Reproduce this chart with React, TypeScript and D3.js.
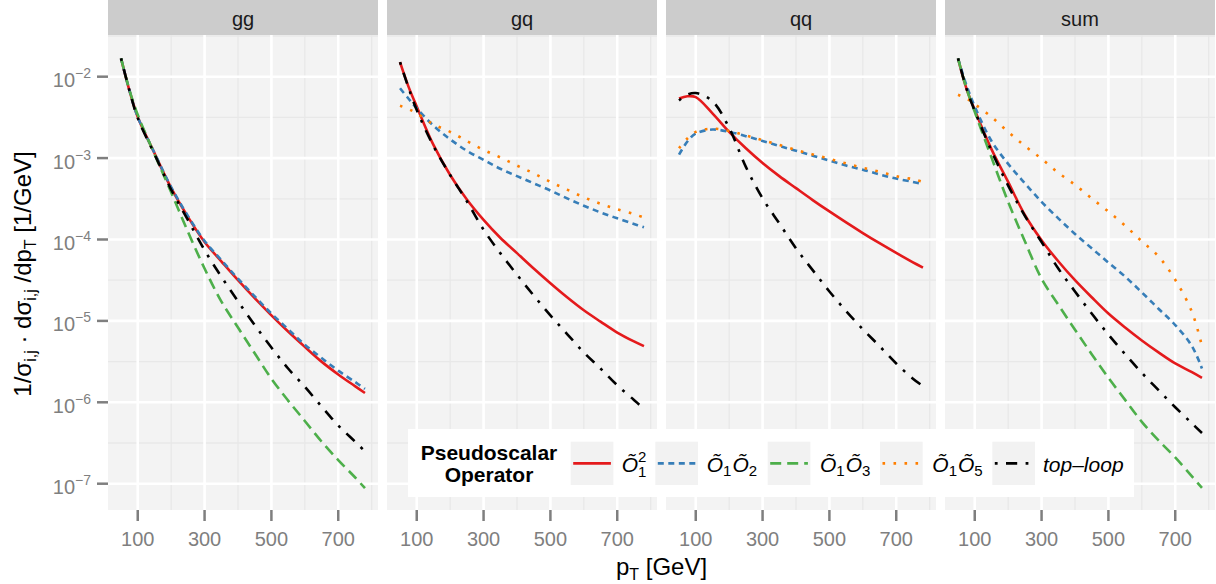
import React from 'react';
import * as d3 from 'd3';

// transverse momentum grid (GeV) the curves were read at
const PT = [50, 75, 100, 150, 200, 250, 300, 350, 400, 450, 500, 550, 600, 650, 700, 750, 780];

// gg channel
const GG_O1SQ = [1.68e-2, 6.8e-3, 3.2e-3, 1.15e-3, 4.3e-4, 1.9e-4, 9.3e-5, 5.4e-5, 3.16e-5, 1.9e-5, 1.17e-5, 7.4e-6, 4.8e-6, 3.16e-6, 2.2e-6, 1.58e-6, 1.3e-6];
const GG_O1O2 = [1.68e-2, 6.8e-3, 3.2e-3, 1.16e-3, 4.4e-4, 1.95e-4, 9.6e-5, 5.6e-5, 3.3e-5, 2.0e-5, 1.23e-5, 7.9e-6, 5.1e-6, 3.5e-6, 2.45e-6, 1.78e-6, 1.46e-6];
const GG_O1O3 = [1.68e-2, 6.9e-3, 3.4e-3, 1.12e-3, 3.8e-4, 1.25e-4, 4.4e-5, 1.74e-5, 8.3e-6, 4.0e-6, 1.95e-6, 1.05e-6, 5.9e-7, 3.3e-7, 1.95e-7, 1.2e-7, 8.8e-8];
const GG_TOP = [1.68e-2, 6.8e-3, 3.1e-3, 1.12e-3, 4.1e-4, 1.74e-4, 7.4e-5, 3.5e-5, 1.74e-5, 8.9e-6, 4.7e-6, 2.6e-6, 1.55e-6, 8.9e-7, 5.2e-7, 3.3e-7, 2.5e-7];

// gq channel
const GQ_O1SQ = [1.51e-2, 7.6e-3, 4.3e-3, 1.45e-3, 6.2e-4, 3.1e-4, 1.74e-4, 1.05e-4, 6.8e-5, 4.4e-5, 2.9e-5, 1.95e-5, 1.35e-5, 9.8e-6, 7.2e-6, 5.6e-6, 4.9e-6];
const GQ_O1O2 = [7.2e-3, 5.4e-3, 4.1e-3, 2.5e-3, 1.7e-3, 1.23e-3, 9.5e-4, 7.4e-4, 6.0e-4, 4.9e-4, 4.0e-4, 3.2e-4, 2.6e-4, 2.15e-4, 1.82e-4, 1.55e-4, 1.41e-4];
const GQ_O1O5 = [4.4e-3, 4.0e-3, 3.55e-3, 2.6e-3, 2.1e-3, 1.62e-3, 1.26e-3, 1.02e-3, 8.1e-4, 6.5e-4, 5.1e-4, 4.1e-4, 3.3e-4, 2.75e-4, 2.35e-4, 2.05e-4, 1.86e-4];
const GQ_TOP = [1.51e-2, 7.4e-3, 3.9e-3, 1.41e-3, 6.2e-4, 2.95e-4, 1.32e-4, 6.8e-5, 3.7e-5, 2.05e-5, 1.17e-5, 6.9e-6, 4.1e-6, 2.6e-6, 1.62e-6, 1.07e-6, 8.3e-7];

// qq channel
const QQ_O1SQ = [5.4e-3, 5.75e-3, 5.6e-3, 3.55e-3, 2.1e-3, 1.32e-3, 8.7e-4, 6.0e-4, 4.27e-4, 3.05e-4, 2.21e-4, 1.62e-4, 1.2e-4, 9.0e-5, 6.84e-5, 5.25e-5, 4.5e-5];
const QQ_O1O2 = [1.1e-3, 1.6e-3, 2.0e-3, 2.24e-3, 2.1e-3, 1.86e-3, 1.62e-3, 1.41e-3, 1.23e-3, 1.07e-3, 9.3e-4, 8.1e-4, 7.2e-4, 6.3e-4, 5.6e-4, 5.1e-4, 4.8e-4];
const QQ_O1O5 = [1.32e-3, 1.74e-3, 2.1e-3, 2.3e-3, 2.15e-3, 1.9e-3, 1.66e-3, 1.45e-3, 1.26e-3, 1.11e-3, 9.8e-4, 8.6e-4, 7.6e-4, 6.8e-4, 6.0e-4, 5.5e-4, 5.1e-4];
const QQ_TOP = [5.1e-3, 6.0e-3, 6.3e-3, 5.0e-3, 2.35e-3, 7.8e-4, 3.2e-4, 1.58e-4, 7.8e-5, 4.2e-5, 2.3e-5, 1.32e-5, 7.9e-6, 4.9e-6, 3.0e-6, 1.95e-6, 1.58e-6];

// sum of channels
const SUM_O1SQ = [1.68e-2, 7.2e-3, 3.9e-3, 1.29e-3, 5.1e-4, 2.0e-4, 9.8e-5, 5.4e-5, 3.16e-5, 1.95e-5, 1.23e-5, 8.3e-6, 5.75e-6, 4.1e-6, 3.0e-6, 2.35e-6, 2.0e-6];
const SUM_O1O2 = [1.68e-2, 7.9e-3, 4.3e-3, 1.62e-3, 8.5e-4, 4.9e-4, 2.9e-4, 1.82e-4, 1.17e-4, 7.8e-5, 5.2e-5, 3.5e-5, 2.24e-5, 1.41e-5, 8.9e-6, 4.9e-6, 2.6e-6];
const SUM_O1O3 = [1.68e-2, 7.2e-3, 3.7e-3, 1.02e-3, 2.9e-4, 9.5e-5, 3.3e-5, 1.58e-5, 7.8e-6, 3.9e-6, 2.0e-6, 1.07e-6, 5.75e-7, 3.4e-7, 2.1e-7, 1.23e-7, 8.9e-8];
const SUM_O1O5 = [6.0e-3, 5.4e-3, 4.6e-3, 3.2e-3, 2.1e-3, 1.41e-3, 9.8e-4, 6.6e-4, 4.7e-4, 3.2e-4, 2.2e-4, 1.48e-4, 9.5e-5, 6.2e-5, 3.2e-5, 1.29e-5, 4.9e-6];
const SUM_TOP = [1.68e-2, 7.2e-3, 3.8e-3, 1.23e-3, 4.6e-4, 1.95e-4, 9.3e-5, 4.4e-5, 2.3e-5, 1.23e-5, 6.8e-6, 3.9e-6, 2.3e-6, 1.41e-6, 8.7e-7, 5.5e-7, 4.2e-7];

const FACETS = ['gg', 'gq', 'qq', 'sum'];
const X_TICKS = [100, 300, 500, 700];
const X_MINOR = [200, 400, 600, 800];
const Y_EXPONENTS = [-2, -3, -4, -5, -6, -7];

const FACET_DATA: Record<string, Record<string, number[]>> = {
  gg: { o1sq: GG_O1SQ, o1o2: GG_O1O2, o1o3: GG_O1O3, top: GG_TOP },
  gq: { o1sq: GQ_O1SQ, o1o2: GQ_O1O2, o1o5: GQ_O1O5, top: GQ_TOP },
  qq: { o1sq: QQ_O1SQ, o1o2: QQ_O1O2, o1o5: QQ_O1O5, top: QQ_TOP },
  sum: { o1sq: SUM_O1SQ, o1o2: SUM_O1O2, o1o3: SUM_O1O3, o1o5: SUM_O1O5, top: SUM_TOP },
};

const SERIES = [
  { key: 'o1sq', color: '#E41A1C', dash: undefined },
  { key: 'o1o2', color: '#377EB8', dash: '6 4.5' },
  { key: 'o1o3', color: '#4DAF4A', dash: '11 6' },
  { key: 'o1o5', color: '#FF7F00', dash: '2.6 8.4' },
  { key: 'top', color: '#000000', dash: '2.8 8.4 11.2 8.4' },
];

const FONT = "'Liberation Sans', Arial, Helvetica, sans-serif";
const W = 1216;
const H = 584;
const PANEL_X0 = 108;
const PANEL_W = 270;
const PANEL_STEP = 279;
const TOP = 35;
const BOTTOM = 510;
const AXIS_GREY = '#7F7F7F';

const x = d3.scaleLinear().domain([11, 819]).range([0, PANEL_W]);
const y = d3.scaleLog().domain([10 ** -7.323, 10 ** -1.488]).range([BOTTOM, TOP]);

// smooth curve through the read-off points
const line = d3
  .line<number>()
  .x((_, i) => x(PT[i]))
  .y((v) => y(v))
  .curve(d3.curveCatmullRom.alpha(0.5));

function Panel({ name, index }: { name: string; index: number }) {
  const x0 = PANEL_X0 + index * PANEL_STEP;
  const data = FACET_DATA[name];
  const [lo, hi] = y.domain();
  const minorY = d3.range(-7.5, -1, 1).map((e) => 10 ** e).filter((v) => v >= lo && v <= hi);

  return (
    <g>
      {/* strip */}
      <rect x={x0} y={0} width={PANEL_W} height={TOP} fill="#CCCCCC" />
      <text x={x0 + PANEL_W / 2} y={25.5} textAnchor="middle" fontSize={20} fill="#1A1A1A">
        {name}
      </text>

      <g transform={`translate(${x0},0)`}>
        <rect x={0} y={TOP} width={PANEL_W} height={BOTTOM - TOP} fill="#F3F3F3" />
        {minorY.map((v) => (
          <line key={'my' + v} x1={0} x2={PANEL_W} y1={y(v)} y2={y(v)} stroke="#E8E8E8" strokeWidth={1.3} />
        ))}
        {X_MINOR.map((v) => (
          <line key={'mx' + v} x1={x(v)} x2={x(v)} y1={TOP} y2={BOTTOM} stroke="#E8E8E8" strokeWidth={1.3} />
        ))}
        {Y_EXPONENTS.map((e) => (
          <line key={'gy' + e} x1={0} x2={PANEL_W} y1={y(10 ** e)} y2={y(10 ** e)} stroke="#FFFFFF" strokeWidth={2.6} />
        ))}
        {X_TICKS.map((v) => (
          <line key={'gx' + v} x1={x(v)} x2={x(v)} y1={TOP} y2={BOTTOM} stroke="#FFFFFF" strokeWidth={2.6} />
        ))}

        {SERIES.filter((s) => data[s.key]).map((s) => (
          <path
            key={s.key}
            d={line(data[s.key]) || ''}
            fill="none"
            stroke={s.color}
            strokeWidth={2.6}
            strokeDasharray={s.dash}
            strokeLinecap="butt"
          />
        ))}

        {/* x axis */}
        {X_TICKS.map((v) => (
          <g key={'xt' + v}>
            <line x1={x(v)} x2={x(v)} y1={BOTTOM} y2={BOTTOM + 11} stroke={AXIS_GREY} strokeWidth={2.5} />
            <text x={x(v)} y={545.5} textAnchor="middle" fontSize={20} fill={AXIS_GREY}>
              {v}
            </text>
          </g>
        ))}
      </g>
    </g>
  );
}

function Sub({ children, dy }: { children: React.ReactNode; dy: number }) {
  return (
    <tspan fontSize={15} fontStyle="normal" dy={dy}>
      {children}
    </tspan>
  );
}

function Legend() {
  const keyX = [570.7, 655.3, 767.7, 880, 992.3];
  const keyW = 42.7;
  const keyY = 441.7;
  const keyH = 43.3;
  const midY = keyY + keyH / 2;
  const labelX = [621.7, 706.7, 820, 932.3, 1043];
  const base = 471.5;

  return (
    <g>
      <rect x={408} y={429} width={726} height={68} fill="#FFFFFF" />
      <text x={489} y={459.5} textAnchor="middle" fontSize={21} fontWeight="bold" fill="#000">
        Pseudoscalar
      </text>
      <text x={489} y={481.5} textAnchor="middle" fontSize={21} fontWeight="bold" fill="#000">
        Operator
      </text>
      {SERIES.map((s, i) => (
        <g key={s.key}>
          <rect x={keyX[i]} y={keyY} width={keyW} height={keyH} fill="#F2F2F2" />
          <line
            x1={keyX[i] + 2.5}
            x2={keyX[i] + keyW - 2.5}
            y1={midY}
            y2={midY}
            stroke={s.color}
            strokeWidth={2.6}
            strokeDasharray={s.dash}
          />
        </g>
      ))}

      {/* Õ1^2 */}
      <text x={labelX[0]} y={base} fontSize={21} fontStyle="italic" fill="#000">
        Õ
      </text>
      <text x={labelX[0] + 16.3} y={base - 10} fontSize={15} fill="#000">
        2
      </text>
      <text x={labelX[0] + 16.3} y={base + 5.5} fontSize={15} fill="#000">
        1
      </text>

      {[
        ['1', '2'],
        ['1', '3'],
        ['1', '5'],
      ].map(([a, b], i) => (
        <text key={b} x={labelX[i + 1]} y={base} fontSize={21} fontStyle="italic" fill="#000">
          Õ
          <Sub dy={4}>{a}</Sub>
          <tspan dy={-4} dx={1}>
            Õ
          </tspan>
          <Sub dy={4}>{b}</Sub>
        </text>
      ))}

      <text x={labelX[4]} y={base} fontSize={21} fontStyle="italic" fill="#000">
        top–loop
      </text>
    </g>
  );
}

export default function App() {
  return (
    <svg
      width={W}
      height={H}
      style={{ position: 'absolute', left: 0, top: 0, background: '#FFFFFF' }}
      fontFamily={FONT}
    >
      <rect width={W} height={H} fill="#FFFFFF" />
      {FACETS.map((f, i) => (
        <Panel key={f} name={f} index={i} />
      ))}

      {/* y axis (left panel only) */}
      {Y_EXPONENTS.map((e) => (
        <g key={'yt' + e}>
          <line x1={97} x2={PANEL_X0} y1={y(10 ** e)} y2={y(10 ** e)} stroke={AXIS_GREY} strokeWidth={2.5} />
          <text x={91} y={y(10 ** e) + 10.5} textAnchor="end" fontSize={20} fill={AXIS_GREY}>
            10
            <tspan fontSize={14} dy={-9}>
              {'\u2212' + Math.abs(e)}
            </tspan>
          </text>
        </g>
      ))}

      {/* axis titles */}
      <text transform="translate(31,274) rotate(-90)" textAnchor="middle" fontSize={24} fill="#000">
        1/σ
        <tspan fontSize={16} dy={5}>
          i,j
        </tspan>
        <tspan dy={-5}> · dσ</tspan>
        <tspan fontSize={16} dy={5}>
          i,j
        </tspan>
        <tspan dy={-5}> /dp</tspan>
        <tspan fontSize={16} dy={5}>
          T
        </tspan>
        <tspan dy={-5}> [1/GeV]</tspan>
      </text>
      <text x={661.5} y={575} textAnchor="middle" fontSize={24} fill="#000">
        p
        <tspan fontSize={16} dy={5}>
          T
        </tspan>
        <tspan dy={-5}> [GeV]</tspan>
      </text>

      <Legend />
    </svg>
  );
}
